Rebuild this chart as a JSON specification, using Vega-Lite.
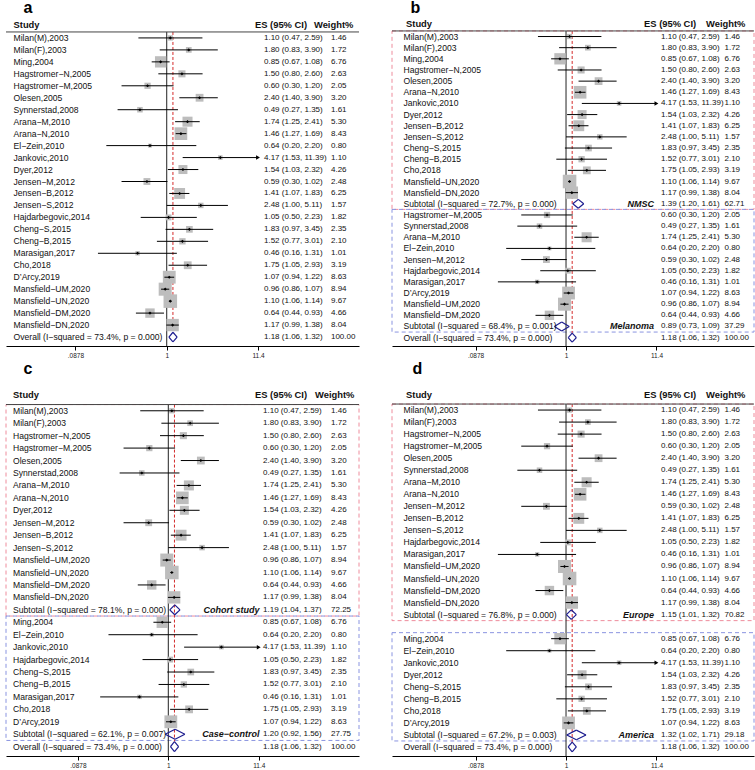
{
"$schema": "https://vega.github.io/schema/vega-lite/v6.json",
"padding": {"left": 5, "top": 0, "right": 0, "bottom": 0},
"config": {"view": {"stroke": null}, "font": "Liberation Sans", "text": {"color": "#111"}, "title": {"font": "Liberation Sans"},
 "axisX": {"grid": false, "domainColor": "#000", "tickColor": "#000", "tickSize": 4, "labelFontSize": 6.5, "labelColor": "#222", "labelPadding": 2, "labelFont": "Liberation Sans"}},
"datasets": {
"a": [
{"k":"r00","t":"header","l":"Study","ci":"ES (95% CI)","wl":"Weight%"},
{"k":"r01","t":"study","l":"Milan(M),2003","es":1.10,"lo":0.47,"hi":2.59,"w":1.46,"ci":"1.10 (0.47, 2.59)"},
{"k":"r02","t":"study","l":"Milan(F),2003","es":1.80,"lo":0.83,"hi":3.90,"w":1.72,"ci":"1.80 (0.83, 3.90)"},
{"k":"r03","t":"study","l":"Ming,2004","es":0.85,"lo":0.67,"hi":1.08,"w":6.76,"ci":"0.85 (0.67, 1.08)"},
{"k":"r04","t":"study","l":"Hagstromer−N,2005","es":1.50,"lo":0.80,"hi":2.60,"w":2.63,"ci":"1.50 (0.80, 2.60)"},
{"k":"r05","t":"study","l":"Hagstromer−M,2005","es":0.60,"lo":0.30,"hi":1.20,"w":2.05,"ci":"0.60 (0.30, 1.20)"},
{"k":"r06","t":"study","l":"Olesen,2005","es":2.40,"lo":1.40,"hi":3.90,"w":3.20,"ci":"2.40 (1.40, 3.90)"},
{"k":"r07","t":"study","l":"Synnerstad,2008","es":0.49,"lo":0.27,"hi":1.35,"w":1.61,"ci":"0.49 (0.27, 1.35)"},
{"k":"r08","t":"study","l":"Arana−M,2010","es":1.74,"lo":1.25,"hi":2.41,"w":5.30,"ci":"1.74 (1.25, 2.41)"},
{"k":"r09","t":"study","l":"Arana−N,2010","es":1.46,"lo":1.27,"hi":1.69,"w":8.43,"ci":"1.46 (1.27, 1.69)"},
{"k":"r10","t":"study","l":"El−Zein,2010","es":0.64,"lo":0.20,"hi":2.20,"w":0.80,"ci":"0.64 (0.20, 2.20)"},
{"k":"r11","t":"study","l":"Jankovic,2010","es":4.17,"lo":1.53,"hi":11.39,"w":1.10,"ci":"4.17 (1.53, 11.39)"},
{"k":"r12","t":"study","l":"Dyer,2012","es":1.54,"lo":1.03,"hi":2.32,"w":4.26,"ci":"1.54 (1.03, 2.32)"},
{"k":"r13","t":"study","l":"Jensen−M,2012","es":0.59,"lo":0.30,"hi":1.02,"w":2.48,"ci":"0.59 (0.30, 1.02)"},
{"k":"r14","t":"study","l":"Jensen−B,2012","es":1.41,"lo":1.07,"hi":1.83,"w":6.25,"ci":"1.41 (1.07, 1.83)"},
{"k":"r15","t":"study","l":"Jensen−S,2012","es":2.48,"lo":1.00,"hi":5.11,"w":1.57,"ci":"2.48 (1.00, 5.11)"},
{"k":"r16","t":"study","l":"Hajdarbegovic,2014","es":1.05,"lo":0.50,"hi":2.23,"w":1.82,"ci":"1.05 (0.50, 2.23)"},
{"k":"r17","t":"study","l":"Cheng−S,2015","es":1.83,"lo":0.97,"hi":3.45,"w":2.35,"ci":"1.83 (0.97, 3.45)"},
{"k":"r18","t":"study","l":"Cheng−B,2015","es":1.52,"lo":0.77,"hi":3.01,"w":2.10,"ci":"1.52 (0.77, 3.01)"},
{"k":"r19","t":"study","l":"Marasigan,2017","es":0.46,"lo":0.16,"hi":1.31,"w":1.01,"ci":"0.46 (0.16, 1.31)"},
{"k":"r20","t":"study","l":"Cho,2018","es":1.75,"lo":1.05,"hi":2.93,"w":3.19,"ci":"1.75 (1.05, 2.93)"},
{"k":"r21","t":"study","l":"D’Arcy,2019","es":1.07,"lo":0.94,"hi":1.22,"w":8.63,"ci":"1.07 (0.94, 1.22)"},
{"k":"r22","t":"study","l":"Mansfield−UM,2020","es":0.96,"lo":0.86,"hi":1.07,"w":8.94,"ci":"0.96 (0.86, 1.07)"},
{"k":"r23","t":"study","l":"Mansfield−UN,2020","es":1.10,"lo":1.06,"hi":1.14,"w":9.67,"ci":"1.10 (1.06, 1.14)"},
{"k":"r24","t":"study","l":"Mansfield−DM,2020","es":0.64,"lo":0.44,"hi":0.93,"w":4.66,"ci":"0.64 (0.44, 0.93)"},
{"k":"r25","t":"study","l":"Mansfield−DN,2020","es":1.17,"lo":0.99,"hi":1.38,"w":8.04,"ci":"1.17 (0.99, 1.38)"},
{"k":"r26","t":"overall","l":"Overall  (I−squared = 73.4%, p = 0.000)","es":1.18,"lo":1.06,"hi":1.32,"w":100,"ci":"1.18 (1.06, 1.32)"}
],
"b": [
{"k":"r00","t":"header","l":"Study","ci":"ES (95% CI)","wl":"Weight%"},
{"k":"r01","t":"study","l":"Milan(M),2003","es":1.10,"lo":0.47,"hi":2.59,"w":1.46,"ci":"1.10 (0.47, 2.59)"},
{"k":"r02","t":"study","l":"Milan(F),2003","es":1.80,"lo":0.83,"hi":3.90,"w":1.72,"ci":"1.80 (0.83, 3.90)"},
{"k":"r03","t":"study","l":"Ming,2004","es":0.85,"lo":0.67,"hi":1.08,"w":6.76,"ci":"0.85 (0.67, 1.08)"},
{"k":"r04","t":"study","l":"Hagstromer−N,2005","es":1.50,"lo":0.80,"hi":2.60,"w":2.63,"ci":"1.50 (0.80, 2.60)"},
{"k":"r05","t":"study","l":"Olesen,2005","es":2.40,"lo":1.40,"hi":3.90,"w":3.20,"ci":"2.40 (1.40, 3.90)"},
{"k":"r06","t":"study","l":"Arana−N,2010","es":1.46,"lo":1.27,"hi":1.69,"w":8.43,"ci":"1.46 (1.27, 1.69)"},
{"k":"r07","t":"study","l":"Jankovic,2010","es":4.17,"lo":1.53,"hi":11.39,"w":1.10,"ci":"4.17 (1.53, 11.39)"},
{"k":"r08","t":"study","l":"Dyer,2012","es":1.54,"lo":1.03,"hi":2.32,"w":4.26,"ci":"1.54 (1.03, 2.32)"},
{"k":"r09","t":"study","l":"Jensen−B,2012","es":1.41,"lo":1.07,"hi":1.83,"w":6.25,"ci":"1.41 (1.07, 1.83)"},
{"k":"r10","t":"study","l":"Jensen−S,2012","es":2.48,"lo":1.00,"hi":5.11,"w":1.57,"ci":"2.48 (1.00, 5.11)"},
{"k":"r11","t":"study","l":"Cheng−S,2015","es":1.83,"lo":0.97,"hi":3.45,"w":2.35,"ci":"1.83 (0.97, 3.45)"},
{"k":"r12","t":"study","l":"Cheng−B,2015","es":1.52,"lo":0.77,"hi":3.01,"w":2.10,"ci":"1.52 (0.77, 3.01)"},
{"k":"r13","t":"study","l":"Cho,2018","es":1.75,"lo":1.05,"hi":2.93,"w":3.19,"ci":"1.75 (1.05, 2.93)"},
{"k":"r14","t":"study","l":"Mansfield−UN,2020","es":1.10,"lo":1.06,"hi":1.14,"w":9.67,"ci":"1.10 (1.06, 1.14)"},
{"k":"r15","t":"study","l":"Mansfield−DN,2020","es":1.17,"lo":0.99,"hi":1.38,"w":8.04,"ci":"1.17 (0.99, 1.38)"},
{"k":"r16","t":"subtotal","l":"Subtotal  (I−squared = 72.7%, p = 0.000)","es":1.39,"lo":1.20,"hi":1.61,"w":62.71,"ci":"1.39 (1.20, 1.61)","g":"NMSC"},
{"k":"r17","t":"study","l":"Hagstromer−M,2005","es":0.60,"lo":0.30,"hi":1.20,"w":2.05,"ci":"0.60 (0.30, 1.20)"},
{"k":"r18","t":"study","l":"Synnerstad,2008","es":0.49,"lo":0.27,"hi":1.35,"w":1.61,"ci":"0.49 (0.27, 1.35)"},
{"k":"r19","t":"study","l":"Arana−M,2010","es":1.74,"lo":1.25,"hi":2.41,"w":5.30,"ci":"1.74 (1.25, 2.41)"},
{"k":"r20","t":"study","l":"El−Zein,2010","es":0.64,"lo":0.20,"hi":2.20,"w":0.80,"ci":"0.64 (0.20, 2.20)"},
{"k":"r21","t":"study","l":"Jensen−M,2012","es":0.59,"lo":0.30,"hi":1.02,"w":2.48,"ci":"0.59 (0.30, 1.02)"},
{"k":"r22","t":"study","l":"Hajdarbegovic,2014","es":1.05,"lo":0.50,"hi":2.23,"w":1.82,"ci":"1.05 (0.50, 2.23)"},
{"k":"r23","t":"study","l":"Marasigan,2017","es":0.46,"lo":0.16,"hi":1.31,"w":1.01,"ci":"0.46 (0.16, 1.31)"},
{"k":"r24","t":"study","l":"D’Arcy,2019","es":1.07,"lo":0.94,"hi":1.22,"w":8.63,"ci":"1.07 (0.94, 1.22)"},
{"k":"r25","t":"study","l":"Mansfield−UM,2020","es":0.96,"lo":0.86,"hi":1.07,"w":8.94,"ci":"0.96 (0.86, 1.07)"},
{"k":"r26","t":"study","l":"Mansfield−DM,2020","es":0.64,"lo":0.44,"hi":0.93,"w":4.66,"ci":"0.64 (0.44, 0.93)"},
{"k":"r27","t":"subtotal","l":"Subtotal  (I−squared = 68.4%, p = 0.001)","es":0.89,"lo":0.73,"hi":1.09,"w":37.29,"ci":"0.89 (0.73, 1.09)","g":"Melanoma"},
{"k":"r28","t":"overall","l":"Overall  (I−squared = 73.4%, p = 0.000)","es":1.18,"lo":1.06,"hi":1.32,"w":100,"ci":"1.18 (1.06, 1.32)"},
{"t":"box","from":"r01","to":"r16","part":"1"},
{"t":"box","from":"r17","to":"r27","part":"2"}
],
"c": [
{"k":"r00","t":"header","l":"Study","ci":"ES (95% CI)","wl":"Weight%"},
{"k":"r01","t":"study","l":"Milan(M),2003","es":1.10,"lo":0.47,"hi":2.59,"w":1.46,"ci":"1.10 (0.47, 2.59)"},
{"k":"r02","t":"study","l":"Milan(F),2003","es":1.80,"lo":0.83,"hi":3.90,"w":1.72,"ci":"1.80 (0.83, 3.90)"},
{"k":"r03","t":"study","l":"Hagstromer−N,2005","es":1.50,"lo":0.80,"hi":2.60,"w":2.63,"ci":"1.50 (0.80, 2.60)"},
{"k":"r04","t":"study","l":"Hagstromer−M,2005","es":0.60,"lo":0.30,"hi":1.20,"w":2.05,"ci":"0.60 (0.30, 1.20)"},
{"k":"r05","t":"study","l":"Olesen,2005","es":2.40,"lo":1.40,"hi":3.90,"w":3.20,"ci":"2.40 (1.40, 3.90)"},
{"k":"r06","t":"study","l":"Synnerstad,2008","es":0.49,"lo":0.27,"hi":1.35,"w":1.61,"ci":"0.49 (0.27, 1.35)"},
{"k":"r07","t":"study","l":"Arana−M,2010","es":1.74,"lo":1.25,"hi":2.41,"w":5.30,"ci":"1.74 (1.25, 2.41)"},
{"k":"r08","t":"study","l":"Arana−N,2010","es":1.46,"lo":1.27,"hi":1.69,"w":8.43,"ci":"1.46 (1.27, 1.69)"},
{"k":"r09","t":"study","l":"Dyer,2012","es":1.54,"lo":1.03,"hi":2.32,"w":4.26,"ci":"1.54 (1.03, 2.32)"},
{"k":"r10","t":"study","l":"Jensen−M,2012","es":0.59,"lo":0.30,"hi":1.02,"w":2.48,"ci":"0.59 (0.30, 1.02)"},
{"k":"r11","t":"study","l":"Jensen−B,2012","es":1.41,"lo":1.07,"hi":1.83,"w":6.25,"ci":"1.41 (1.07, 1.83)"},
{"k":"r12","t":"study","l":"Jensen−S,2012","es":2.48,"lo":1.00,"hi":5.11,"w":1.57,"ci":"2.48 (1.00, 5.11)"},
{"k":"r13","t":"study","l":"Mansfield−UM,2020","es":0.96,"lo":0.86,"hi":1.07,"w":8.94,"ci":"0.96 (0.86, 1.07)"},
{"k":"r14","t":"study","l":"Mansfield−UN,2020","es":1.10,"lo":1.06,"hi":1.14,"w":9.67,"ci":"1.10 (1.06, 1.14)"},
{"k":"r15","t":"study","l":"Mansfield−DM,2020","es":0.64,"lo":0.44,"hi":0.93,"w":4.66,"ci":"0.64 (0.44, 0.93)"},
{"k":"r16","t":"study","l":"Mansfield−DN,2020","es":1.17,"lo":0.99,"hi":1.38,"w":8.04,"ci":"1.17 (0.99, 1.38)"},
{"k":"r17","t":"subtotal","l":"Subtotal  (I−squared = 78.1%, p = 0.000)","es":1.19,"lo":1.04,"hi":1.37,"w":72.25,"ci":"1.19 (1.04, 1.37)","g":"Cohort study"},
{"k":"r18","t":"study","l":"Ming,2004","es":0.85,"lo":0.67,"hi":1.08,"w":6.76,"ci":"0.85 (0.67, 1.08)"},
{"k":"r19","t":"study","l":"El−Zein,2010","es":0.64,"lo":0.20,"hi":2.20,"w":0.80,"ci":"0.64 (0.20, 2.20)"},
{"k":"r20","t":"study","l":"Jankovic,2010","es":4.17,"lo":1.53,"hi":11.39,"w":1.10,"ci":"4.17 (1.53, 11.39)"},
{"k":"r21","t":"study","l":"Hajdarbegovic,2014","es":1.05,"lo":0.50,"hi":2.23,"w":1.82,"ci":"1.05 (0.50, 2.23)"},
{"k":"r22","t":"study","l":"Cheng−S,2015","es":1.83,"lo":0.97,"hi":3.45,"w":2.35,"ci":"1.83 (0.97, 3.45)"},
{"k":"r23","t":"study","l":"Cheng−B,2015","es":1.52,"lo":0.77,"hi":3.01,"w":2.10,"ci":"1.52 (0.77, 3.01)"},
{"k":"r24","t":"study","l":"Marasigan,2017","es":0.46,"lo":0.16,"hi":1.31,"w":1.01,"ci":"0.46 (0.16, 1.31)"},
{"k":"r25","t":"study","l":"Cho,2018","es":1.75,"lo":1.05,"hi":2.93,"w":3.19,"ci":"1.75 (1.05, 2.93)"},
{"k":"r26","t":"study","l":"D’Arcy,2019","es":1.07,"lo":0.94,"hi":1.22,"w":8.63,"ci":"1.07 (0.94, 1.22)"},
{"k":"r27","t":"subtotal","l":"Subtotal  (I−squared = 62.1%, p = 0.007)","es":1.20,"lo":0.92,"hi":1.56,"w":27.75,"ci":"1.20 (0.92, 1.56)","g":"Case−control"},
{"k":"r28","t":"overall","l":"Overall  (I−squared = 73.4%, p = 0.000)","es":1.18,"lo":1.06,"hi":1.32,"w":100,"ci":"1.18 (1.06, 1.32)"},
{"t":"box","from":"r01","to":"r17","part":"1"},
{"t":"box","from":"r18","to":"r27","part":"2"}
],
"d": [
{"k":"r00","t":"header","l":"Study","ci":"ES (95% CI)","wl":"Weight%"},
{"k":"r01","t":"study","l":"Milan(M),2003","es":1.10,"lo":0.47,"hi":2.59,"w":1.46,"ci":"1.10 (0.47, 2.59)"},
{"k":"r02","t":"study","l":"Milan(F),2003","es":1.80,"lo":0.83,"hi":3.90,"w":1.72,"ci":"1.80 (0.83, 3.90)"},
{"k":"r03","t":"study","l":"Hagstromer−N,2005","es":1.50,"lo":0.80,"hi":2.60,"w":2.63,"ci":"1.50 (0.80, 2.60)"},
{"k":"r04","t":"study","l":"Hagstromer−M,2005","es":0.60,"lo":0.30,"hi":1.20,"w":2.05,"ci":"0.60 (0.30, 1.20)"},
{"k":"r05","t":"study","l":"Olesen,2005","es":2.40,"lo":1.40,"hi":3.90,"w":3.20,"ci":"2.40 (1.40, 3.90)"},
{"k":"r06","t":"study","l":"Synnerstad,2008","es":0.49,"lo":0.27,"hi":1.35,"w":1.61,"ci":"0.49 (0.27, 1.35)"},
{"k":"r07","t":"study","l":"Arana−M,2010","es":1.74,"lo":1.25,"hi":2.41,"w":5.30,"ci":"1.74 (1.25, 2.41)"},
{"k":"r08","t":"study","l":"Arana−N,2010","es":1.46,"lo":1.27,"hi":1.69,"w":8.43,"ci":"1.46 (1.27, 1.69)"},
{"k":"r09","t":"study","l":"Jensen−M,2012","es":0.59,"lo":0.30,"hi":1.02,"w":2.48,"ci":"0.59 (0.30, 1.02)"},
{"k":"r10","t":"study","l":"Jensen−B,2012","es":1.41,"lo":1.07,"hi":1.83,"w":6.25,"ci":"1.41 (1.07, 1.83)"},
{"k":"r11","t":"study","l":"Jensen−S,2012","es":2.48,"lo":1.00,"hi":5.11,"w":1.57,"ci":"2.48 (1.00, 5.11)"},
{"k":"r12","t":"study","l":"Hajdarbegovic,2014","es":1.05,"lo":0.50,"hi":2.23,"w":1.82,"ci":"1.05 (0.50, 2.23)"},
{"k":"r13","t":"study","l":"Marasigan,2017","es":0.46,"lo":0.16,"hi":1.31,"w":1.01,"ci":"0.46 (0.16, 1.31)"},
{"k":"r14","t":"study","l":"Mansfield−UM,2020","es":0.96,"lo":0.86,"hi":1.07,"w":8.94,"ci":"0.96 (0.86, 1.07)"},
{"k":"r15","t":"study","l":"Mansfield−UN,2020","es":1.10,"lo":1.06,"hi":1.14,"w":9.67,"ci":"1.10 (1.06, 1.14)"},
{"k":"r16","t":"study","l":"Mansfield−DM,2020","es":0.64,"lo":0.44,"hi":0.93,"w":4.66,"ci":"0.64 (0.44, 0.93)"},
{"k":"r17","t":"study","l":"Mansfield−DN,2020","es":1.17,"lo":0.99,"hi":1.38,"w":8.04,"ci":"1.17 (0.99, 1.38)"},
{"k":"r18","t":"subtotal","l":"Subtotal  (I−squared = 76.8%, p = 0.000)","es":1.15,"lo":1.01,"hi":1.32,"w":70.82,"ci":"1.15 (1.01, 1.32)","g":"Europe"},
{"k":"r19","t":"blank","l":""},
{"k":"r20","t":"study","l":"Ming,2004","es":0.85,"lo":0.67,"hi":1.08,"w":6.76,"ci":"0.85 (0.67, 1.08)"},
{"k":"r21","t":"study","l":"El−Zein,2010","es":0.64,"lo":0.20,"hi":2.20,"w":0.80,"ci":"0.64 (0.20, 2.20)"},
{"k":"r22","t":"study","l":"Jankovic,2010","es":4.17,"lo":1.53,"hi":11.39,"w":1.10,"ci":"4.17 (1.53, 11.39)"},
{"k":"r23","t":"study","l":"Dyer,2012","es":1.54,"lo":1.03,"hi":2.32,"w":4.26,"ci":"1.54 (1.03, 2.32)"},
{"k":"r24","t":"study","l":"Cheng−S,2015","es":1.83,"lo":0.97,"hi":3.45,"w":2.35,"ci":"1.83 (0.97, 3.45)"},
{"k":"r25","t":"study","l":"Cheng−B,2015","es":1.52,"lo":0.77,"hi":3.01,"w":2.10,"ci":"1.52 (0.77, 3.01)"},
{"k":"r26","t":"study","l":"Cho,2018","es":1.75,"lo":1.05,"hi":2.93,"w":3.19,"ci":"1.75 (1.05, 2.93)"},
{"k":"r27","t":"study","l":"D’Arcy,2019","es":1.07,"lo":0.94,"hi":1.22,"w":8.63,"ci":"1.07 (0.94, 1.22)"},
{"k":"r28","t":"subtotal","l":"Subtotal  (I−squared = 67.2%, p = 0.003)","es":1.32,"lo":1.02,"hi":1.71,"w":29.18,"ci":"1.32 (1.02, 1.71)","g":"America"},
{"k":"r29","t":"overall","l":"Overall  (I−squared = 73.4%, p = 0.000)","es":1.18,"lo":1.06,"hi":1.32,"w":100,"ci":"1.18 (1.06, 1.32)"},
{"t":"box","from":"r01","to":"r18","part":"1"},
{"t":"box","from":"r20","to":"r28","part":"2"}
]
},
"spacing": 2,
"vconcat": [
{"spacing": 31, "hconcat": [
{
"width": 353, "height": 329,
"title": {"text": "a", "anchor": "start", "dx": 18, "dy": 3, "fontSize": 16, "fontWeight": "bold", "offset": 4},
"data": {"name": "a"},
"encoding": {"y": {"field": "k", "type": "ordinal", "axis": null, "scale": {"paddingInner": 0, "paddingOuter": 0.25, "domain": ["r00","r01","r02","r03","r04","r05","r06","r07","r08","r09","r10","r11","r12","r13","r14","r15","r16","r17","r18","r19","r20","r21","r22","r23","r24","r25","r26"]}}},
"layer": [
{"transform": [{"filter": "datum.t==='header'"}], "mark": {"type": "rule", "color": "#222", "strokeWidth": 1},
 "encoding": {"x": {"datum": 1, "type": "quantitative", "title": null, "scale": {"type": "log", "domain": [0.0138, 168], "nice": false}, "axis": {"values": [0.0878, 1, 11.4], "labelExpr": "replace(toString(datum.value), '0.', '.')"}},
  "y": {"field": "k", "type": "ordinal", "bandPosition": 1, "axis": null}, "y2": {"value": "height"}}},
{"transform": [{"filter": "datum.t==='overall'"}], "mark": {"type": "rule", "color": "#d42a2a", "strokeDash": [3, 2], "strokeWidth": 1},
 "encoding": {"x": {"field": "es", "type": "quantitative", "title": null, "axis": {"values": [0.0878, 1, 11.4], "labelExpr": "replace(toString(datum.value), '0.', '.')"}}, "y": {"datum": "r00", "type": "ordinal", "bandPosition": 1, "axis": null}, "y2": {"field": "k", "bandPosition": 0.08}}},
{"transform": [{"filter": "datum.t==='study'"}], "mark": {"type": "point", "shape": "square", "filled": true, "color": "#bdbdbd", "opacity": 1},
 "encoding": {"x": {"field": "es", "type": "quantitative", "title": null, "axis": {"values": [0.0878, 1, 11.4], "labelExpr": "replace(toString(datum.value), '0.', '.')"}}, "size": {"field": "w", "type": "quantitative", "scale": {"domain": [0, 10], "range": [0, 190]}, "legend": null}}},
{"transform": [{"filter": "datum.t==='study'"}], "mark": {"type": "rule", "color": "#000", "strokeWidth": 1},
 "encoding": {"x": {"field": "lo", "type": "quantitative", "title": null, "axis": {"values": [0.0878, 1, 11.4], "labelExpr": "replace(toString(datum.value), '0.', '.')"}}, "x2": {"field": "hi"}}},
{"transform": [{"filter": "datum.t==='study'"}], "mark": {"type": "point", "shape": "diamond", "filled": true, "color": "#000", "size": 10, "opacity": 1},
 "encoding": {"x": {"field": "es", "type": "quantitative", "title": null, "axis": {"values": [0.0878, 1, 11.4], "labelExpr": "replace(toString(datum.value), '0.', '.')"}}}},
{"transform": [{"filter": "datum.t==='study' && datum.hi > 11"}], "mark": {"type": "point", "shape": "triangle-right", "filled": true, "color": "#000", "size": 20, "opacity": 1},
 "encoding": {"x": {"field": "hi", "type": "quantitative", "title": null, "axis": {"values": [0.0878, 1, 11.4], "labelExpr": "replace(toString(datum.value), '0.', '.')"}}}},
{"transform": [{"filter": "datum.t==='subtotal' || datum.t==='overall'"}], "mark": {"type": "rule", "color": "#1c1c8f", "strokeWidth": 1.2},
 "encoding": {"x": {"field": "lo", "type": "quantitative", "title": null, "axis": {"values": [0.0878, 1, 11.4], "labelExpr": "replace(toString(datum.value), '0.', '.')"}}, "x2": {"field": "es"}, "y": {"field": "k", "type": "ordinal", "bandPosition": 0.5, "axis": null}, "y2": {"field": "k", "bandPosition": 0.1}}},
{"transform": [{"filter": "datum.t==='subtotal' || datum.t==='overall'"}], "mark": {"type": "rule", "color": "#1c1c8f", "strokeWidth": 1.2},
 "encoding": {"x": {"field": "es", "type": "quantitative", "title": null, "axis": {"values": [0.0878, 1, 11.4], "labelExpr": "replace(toString(datum.value), '0.', '.')"}}, "x2": {"field": "hi"}, "y": {"field": "k", "type": "ordinal", "bandPosition": 0.1, "axis": null}, "y2": {"field": "k", "bandPosition": 0.5}}},
{"transform": [{"filter": "datum.t==='subtotal' || datum.t==='overall'"}], "mark": {"type": "rule", "color": "#1c1c8f", "strokeWidth": 1.2},
 "encoding": {"x": {"field": "hi", "type": "quantitative", "title": null, "axis": {"values": [0.0878, 1, 11.4], "labelExpr": "replace(toString(datum.value), '0.', '.')"}}, "x2": {"field": "es"}, "y": {"field": "k", "type": "ordinal", "bandPosition": 0.5, "axis": null}, "y2": {"field": "k", "bandPosition": 0.9}}},
{"transform": [{"filter": "datum.t==='subtotal' || datum.t==='overall'"}], "mark": {"type": "rule", "color": "#1c1c8f", "strokeWidth": 1.2},
 "encoding": {"x": {"field": "es", "type": "quantitative", "title": null, "axis": {"values": [0.0878, 1, 11.4], "labelExpr": "replace(toString(datum.value), '0.', '.')"}}, "x2": {"field": "lo"}, "y": {"field": "k", "type": "ordinal", "bandPosition": 0.9, "axis": null}, "y2": {"field": "k", "bandPosition": 0.5}}},
{"transform": [{"filter": "datum.t==='header'"}], "mark": {"type": "rule", "color": "#444", "strokeWidth": 1},
 "encoding": {"y": {"field": "k", "type": "ordinal", "bandPosition": 1, "axis": null}}},
{"transform": [{"filter": "datum.t==='header'"}], "mark": {"type": "text", "align": "left", "baseline": "middle", "fontSize": 9.4, "fontWeight": "bold", "dy": -1},
 "encoding": {"x": {"datum": 0.01686, "type": "quantitative", "title": null, "axis": {"values": [0.0878, 1, 11.4], "labelExpr": "replace(toString(datum.value), '0.', '.')"}}, "text": {"field": "l"}}},
{"transform": [{"filter": "datum.t==='header'"}], "mark": {"type": "text", "align": "left", "baseline": "middle", "fontSize": 9.4, "fontWeight": "bold", "dy": -1},
 "encoding": {"x": {"datum": 10.5, "type": "quantitative", "title": null, "axis": {"values": [0.0878, 1, 11.4], "labelExpr": "replace(toString(datum.value), '0.', '.')"}}, "text": {"field": "ci"}}},
{"transform": [{"filter": "datum.t==='header'"}], "mark": {"type": "text", "align": "left", "baseline": "middle", "fontSize": 9.4, "fontWeight": "bold", "dy": -1},
 "encoding": {"x": {"datum": 50.6, "type": "quantitative", "title": null, "axis": {"values": [0.0878, 1, 11.4], "labelExpr": "replace(toString(datum.value), '0.', '.')"}}, "text": {"field": "wl"}}},
{"transform": [{"filter": "datum.t!=='header' && datum.t!=='box'"}], "mark": {"type": "text", "align": "left", "baseline": "middle", "fontSize": 8.6},
 "encoding": {"x": {"datum": 0.01686, "type": "quantitative", "title": null, "axis": {"values": [0.0878, 1, 11.4], "labelExpr": "replace(toString(datum.value), '0.', '.')"}}, "text": {"field": "l"}}},
{"transform": [{"filter": "datum.t!=='header' && isValid(datum.ci)"}], "mark": {"type": "text", "align": "left", "baseline": "middle", "fontSize": 8},
 "encoding": {"x": {"datum": 13.36, "type": "quantitative", "title": null, "axis": {"values": [0.0878, 1, 11.4], "labelExpr": "replace(toString(datum.value), '0.', '.')"}}, "text": {"field": "ci"}}},
{"transform": [{"filter": "isValid(datum.w)"}], "mark": {"type": "text", "align": "left", "baseline": "middle", "fontSize": 8},
 "encoding": {"x": {"datum": 79.6, "type": "quantitative", "title": null, "axis": {"values": [0.0878, 1, 11.4], "labelExpr": "replace(toString(datum.value), '0.', '.')"}}, "text": {"field": "w", "type": "quantitative", "format": ".2f"}}}
]
},
{
"width": 362, "height": 329,
"title": {"text": "b", "anchor": "start", "dx": 19, "dy": 3, "fontSize": 16, "fontWeight": "bold", "offset": 4},
"data": {"name": "b"},
"encoding": {"y": {"field": "k", "type": "ordinal", "axis": null, "scale": {"paddingInner": 0, "paddingOuter": 0.25, "domain": ["r00","r01","r02","r03","r04","r05","r06","r07","r08","r09","r10","r11","r12","r13","r14","r15","r16","r17","r18","r19","r20","r21","r22","r23","r24","r25","r26","r27","r28"]}}},
"layer": [
{"transform": [{"filter": "datum.t==='box'"}], "mark": {"type": "rect", "fillOpacity": 0, "strokeDash": [4, 3], "strokeWidth": 1},
 "encoding": {"y": {"field": "from", "type": "ordinal", "bandPosition": 0, "axis": null}, "y2": {"field": "to", "bandPosition": 1}, "stroke": {"field": "part", "type": "nominal", "scale": {"domain": ["1", "2"], "range": ["#ee8c9c", "#8a94e0"]}, "legend": null}}},
{"transform": [{"filter": "datum.t==='header'"}], "mark": {"type": "rule", "color": "#222", "strokeWidth": 1},
 "encoding": {"x": {"datum": 1, "type": "quantitative", "title": null, "scale": {"type": "log", "domain": [0.00927, 157], "nice": false}, "axis": {"values": [0.0878, 1, 11.4], "labelExpr": "replace(toString(datum.value), '0.', '.')"}},
  "y": {"field": "k", "type": "ordinal", "bandPosition": 1, "axis": null}, "y2": {"value": "height"}}},
{"transform": [{"filter": "datum.t==='overall'"}], "mark": {"type": "rule", "color": "#d42a2a", "strokeDash": [3, 2], "strokeWidth": 1},
 "encoding": {"x": {"field": "es", "type": "quantitative", "title": null, "axis": {"values": [0.0878, 1, 11.4], "labelExpr": "replace(toString(datum.value), '0.', '.')"}}, "y": {"datum": "r00", "type": "ordinal", "bandPosition": 1, "axis": null}, "y2": {"field": "k", "bandPosition": 0.08}}},
{"transform": [{"filter": "datum.t==='study'"}], "mark": {"type": "point", "shape": "square", "filled": true, "color": "#bdbdbd", "opacity": 1},
 "encoding": {"x": {"field": "es", "type": "quantitative", "title": null, "axis": {"values": [0.0878, 1, 11.4], "labelExpr": "replace(toString(datum.value), '0.', '.')"}}, "size": {"field": "w", "type": "quantitative", "scale": {"domain": [0, 10], "range": [0, 190]}, "legend": null}}},
{"transform": [{"filter": "datum.t==='study'"}], "mark": {"type": "rule", "color": "#000", "strokeWidth": 1},
 "encoding": {"x": {"field": "lo", "type": "quantitative", "title": null, "axis": {"values": [0.0878, 1, 11.4], "labelExpr": "replace(toString(datum.value), '0.', '.')"}}, "x2": {"field": "hi"}}},
{"transform": [{"filter": "datum.t==='study'"}], "mark": {"type": "point", "shape": "diamond", "filled": true, "color": "#000", "size": 10, "opacity": 1},
 "encoding": {"x": {"field": "es", "type": "quantitative", "title": null, "axis": {"values": [0.0878, 1, 11.4], "labelExpr": "replace(toString(datum.value), '0.', '.')"}}}},
{"transform": [{"filter": "datum.t==='study' && datum.hi > 11"}], "mark": {"type": "point", "shape": "triangle-right", "filled": true, "color": "#000", "size": 20, "opacity": 1},
 "encoding": {"x": {"field": "hi", "type": "quantitative", "title": null, "axis": {"values": [0.0878, 1, 11.4], "labelExpr": "replace(toString(datum.value), '0.', '.')"}}}},
{"transform": [{"filter": "datum.t==='subtotal' || datum.t==='overall'"}], "mark": {"type": "rule", "color": "#1c1c8f", "strokeWidth": 1.2},
 "encoding": {"x": {"field": "lo", "type": "quantitative", "title": null, "axis": {"values": [0.0878, 1, 11.4], "labelExpr": "replace(toString(datum.value), '0.', '.')"}}, "x2": {"field": "es"}, "y": {"field": "k", "type": "ordinal", "bandPosition": 0.5, "axis": null}, "y2": {"field": "k", "bandPosition": 0.1}}},
{"transform": [{"filter": "datum.t==='subtotal' || datum.t==='overall'"}], "mark": {"type": "rule", "color": "#1c1c8f", "strokeWidth": 1.2},
 "encoding": {"x": {"field": "es", "type": "quantitative", "title": null, "axis": {"values": [0.0878, 1, 11.4], "labelExpr": "replace(toString(datum.value), '0.', '.')"}}, "x2": {"field": "hi"}, "y": {"field": "k", "type": "ordinal", "bandPosition": 0.1, "axis": null}, "y2": {"field": "k", "bandPosition": 0.5}}},
{"transform": [{"filter": "datum.t==='subtotal' || datum.t==='overall'"}], "mark": {"type": "rule", "color": "#1c1c8f", "strokeWidth": 1.2},
 "encoding": {"x": {"field": "hi", "type": "quantitative", "title": null, "axis": {"values": [0.0878, 1, 11.4], "labelExpr": "replace(toString(datum.value), '0.', '.')"}}, "x2": {"field": "es"}, "y": {"field": "k", "type": "ordinal", "bandPosition": 0.5, "axis": null}, "y2": {"field": "k", "bandPosition": 0.9}}},
{"transform": [{"filter": "datum.t==='subtotal' || datum.t==='overall'"}], "mark": {"type": "rule", "color": "#1c1c8f", "strokeWidth": 1.2},
 "encoding": {"x": {"field": "es", "type": "quantitative", "title": null, "axis": {"values": [0.0878, 1, 11.4], "labelExpr": "replace(toString(datum.value), '0.', '.')"}}, "x2": {"field": "lo"}, "y": {"field": "k", "type": "ordinal", "bandPosition": 0.9, "axis": null}, "y2": {"field": "k", "bandPosition": 0.5}}},
{"transform": [{"filter": "datum.t==='header'"}], "mark": {"type": "rule", "color": "#444", "strokeWidth": 1},
 "encoding": {"y": {"field": "k", "type": "ordinal", "bandPosition": 1, "axis": null}}},
{"transform": [{"filter": "datum.t==='header'"}], "mark": {"type": "text", "align": "left", "baseline": "middle", "fontSize": 9.4, "fontWeight": "bold", "dy": -1},
 "encoding": {"x": {"datum": 0.01351, "type": "quantitative", "title": null, "axis": {"values": [0.0878, 1, 11.4], "labelExpr": "replace(toString(datum.value), '0.', '.')"}}, "text": {"field": "l"}}},
{"transform": [{"filter": "datum.t==='header'"}], "mark": {"type": "text", "align": "left", "baseline": "middle", "fontSize": 9.4, "fontWeight": "bold", "dy": -1},
 "encoding": {"x": {"datum": 8.15, "type": "quantitative", "title": null, "axis": {"values": [0.0878, 1, 11.4], "labelExpr": "replace(toString(datum.value), '0.', '.')"}}, "text": {"field": "ci"}}},
{"transform": [{"filter": "datum.t==='header'"}], "mark": {"type": "text", "align": "left", "baseline": "middle", "fontSize": 9.4, "fontWeight": "bold", "dy": -1},
 "encoding": {"x": {"datum": 43.2, "type": "quantitative", "title": null, "axis": {"values": [0.0878, 1, 11.4], "labelExpr": "replace(toString(datum.value), '0.', '.')"}}, "text": {"field": "wl"}}},
{"transform": [{"filter": "datum.t!=='header' && datum.t!=='box'"}], "mark": {"type": "text", "align": "left", "baseline": "middle", "fontSize": 8.6},
 "encoding": {"x": {"datum": 0.01262, "type": "quantitative", "title": null, "axis": {"values": [0.0878, 1, 11.4], "labelExpr": "replace(toString(datum.value), '0.', '.')"}}, "text": {"field": "l"}}},
{"transform": [{"filter": "datum.t!=='header' && isValid(datum.ci)"}], "mark": {"type": "text", "align": "left", "baseline": "middle", "fontSize": 8},
 "encoding": {"x": {"datum": 12.87, "type": "quantitative", "title": null, "axis": {"values": [0.0878, 1, 11.4], "labelExpr": "replace(toString(datum.value), '0.', '.')"}}, "text": {"field": "ci"}}},
{"transform": [{"filter": "isValid(datum.w)"}], "mark": {"type": "text", "align": "left", "baseline": "middle", "fontSize": 8},
 "encoding": {"x": {"datum": 71.0, "type": "quantitative", "title": null, "axis": {"values": [0.0878, 1, 11.4], "labelExpr": "replace(toString(datum.value), '0.', '.')"}}, "text": {"field": "w", "type": "quantitative", "format": ".2f"}}},
{"transform": [{"filter": "datum.t==='subtotal'"}], "mark": {"type": "text", "align": "right", "baseline": "middle", "fontSize": 9, "fontWeight": "bold", "fontStyle": "italic"},
 "encoding": {"x": {"datum": 10.66, "type": "quantitative", "title": null, "axis": {"values": [0.0878, 1, 11.4], "labelExpr": "replace(toString(datum.value), '0.', '.')"}}, "text": {"field": "g"}}}
]
}
]},
{"spacing": 31, "hconcat": [
{
"width": 353, "height": 367,
"title": {"text": "c", "anchor": "start", "dx": 18, "fontSize": 16, "fontWeight": "bold", "offset": 12},
"data": {"name": "c"},
"encoding": {"y": {"field": "k", "type": "ordinal", "axis": null, "scale": {"paddingInner": 0, "paddingOuter": 0.25, "domain": ["r00","r01","r02","r03","r04","r05","r06","r07","r08","r09","r10","r11","r12","r13","r14","r15","r16","r17","r18","r19","r20","r21","r22","r23","r24","r25","r26","r27","r28"]}}},
"layer": [
{"transform": [{"filter": "datum.t==='box'"}], "mark": {"type": "rect", "fillOpacity": 0, "strokeDash": [4, 3], "strokeWidth": 1},
 "encoding": {"y": {"field": "from", "type": "ordinal", "bandPosition": 0, "axis": null}, "y2": {"field": "to", "bandPosition": 1}, "stroke": {"field": "part", "type": "nominal", "scale": {"domain": ["1", "2"], "range": ["#ee8c9c", "#8a94e0"]}, "legend": null}}},
{"transform": [{"filter": "datum.t==='header'"}], "mark": {"type": "rule", "color": "#222", "strokeWidth": 1},
 "encoding": {"x": {"datum": 1, "type": "quantitative", "title": null, "scale": {"type": "log", "domain": [0.0127, 169], "nice": false}, "axis": {"values": [0.0878, 1, 11.4], "labelExpr": "replace(toString(datum.value), '0.', '.')"}},
  "y": {"field": "k", "type": "ordinal", "bandPosition": 1, "axis": null}, "y2": {"value": "height"}}},
{"transform": [{"filter": "datum.t==='overall'"}], "mark": {"type": "rule", "color": "#d42a2a", "strokeDash": [3, 2], "strokeWidth": 1},
 "encoding": {"x": {"field": "es", "type": "quantitative", "title": null, "axis": {"values": [0.0878, 1, 11.4], "labelExpr": "replace(toString(datum.value), '0.', '.')"}}, "y": {"datum": "r00", "type": "ordinal", "bandPosition": 1, "axis": null}, "y2": {"field": "k", "bandPosition": 0.08}}},
{"transform": [{"filter": "datum.t==='study'"}], "mark": {"type": "point", "shape": "square", "filled": true, "color": "#bdbdbd", "opacity": 1},
 "encoding": {"x": {"field": "es", "type": "quantitative", "title": null, "axis": {"values": [0.0878, 1, 11.4], "labelExpr": "replace(toString(datum.value), '0.', '.')"}}, "size": {"field": "w", "type": "quantitative", "scale": {"domain": [0, 10], "range": [0, 190]}, "legend": null}}},
{"transform": [{"filter": "datum.t==='study'"}], "mark": {"type": "rule", "color": "#000", "strokeWidth": 1},
 "encoding": {"x": {"field": "lo", "type": "quantitative", "title": null, "axis": {"values": [0.0878, 1, 11.4], "labelExpr": "replace(toString(datum.value), '0.', '.')"}}, "x2": {"field": "hi"}}},
{"transform": [{"filter": "datum.t==='study'"}], "mark": {"type": "point", "shape": "diamond", "filled": true, "color": "#000", "size": 10, "opacity": 1},
 "encoding": {"x": {"field": "es", "type": "quantitative", "title": null, "axis": {"values": [0.0878, 1, 11.4], "labelExpr": "replace(toString(datum.value), '0.', '.')"}}}},
{"transform": [{"filter": "datum.t==='study' && datum.hi > 11"}], "mark": {"type": "point", "shape": "triangle-right", "filled": true, "color": "#000", "size": 20, "opacity": 1},
 "encoding": {"x": {"field": "hi", "type": "quantitative", "title": null, "axis": {"values": [0.0878, 1, 11.4], "labelExpr": "replace(toString(datum.value), '0.', '.')"}}}},
{"transform": [{"filter": "datum.t==='subtotal' || datum.t==='overall'"}], "mark": {"type": "rule", "color": "#1c1c8f", "strokeWidth": 1.2},
 "encoding": {"x": {"field": "lo", "type": "quantitative", "title": null, "axis": {"values": [0.0878, 1, 11.4], "labelExpr": "replace(toString(datum.value), '0.', '.')"}}, "x2": {"field": "es"}, "y": {"field": "k", "type": "ordinal", "bandPosition": 0.5, "axis": null}, "y2": {"field": "k", "bandPosition": 0.1}}},
{"transform": [{"filter": "datum.t==='subtotal' || datum.t==='overall'"}], "mark": {"type": "rule", "color": "#1c1c8f", "strokeWidth": 1.2},
 "encoding": {"x": {"field": "es", "type": "quantitative", "title": null, "axis": {"values": [0.0878, 1, 11.4], "labelExpr": "replace(toString(datum.value), '0.', '.')"}}, "x2": {"field": "hi"}, "y": {"field": "k", "type": "ordinal", "bandPosition": 0.1, "axis": null}, "y2": {"field": "k", "bandPosition": 0.5}}},
{"transform": [{"filter": "datum.t==='subtotal' || datum.t==='overall'"}], "mark": {"type": "rule", "color": "#1c1c8f", "strokeWidth": 1.2},
 "encoding": {"x": {"field": "hi", "type": "quantitative", "title": null, "axis": {"values": [0.0878, 1, 11.4], "labelExpr": "replace(toString(datum.value), '0.', '.')"}}, "x2": {"field": "es"}, "y": {"field": "k", "type": "ordinal", "bandPosition": 0.5, "axis": null}, "y2": {"field": "k", "bandPosition": 0.9}}},
{"transform": [{"filter": "datum.t==='subtotal' || datum.t==='overall'"}], "mark": {"type": "rule", "color": "#1c1c8f", "strokeWidth": 1.2},
 "encoding": {"x": {"field": "es", "type": "quantitative", "title": null, "axis": {"values": [0.0878, 1, 11.4], "labelExpr": "replace(toString(datum.value), '0.', '.')"}}, "x2": {"field": "lo"}, "y": {"field": "k", "type": "ordinal", "bandPosition": 0.9, "axis": null}, "y2": {"field": "k", "bandPosition": 0.5}}},
{"transform": [{"filter": "datum.t==='header'"}], "mark": {"type": "rule", "color": "#444", "strokeWidth": 1},
 "encoding": {"y": {"field": "k", "type": "ordinal", "bandPosition": 1, "axis": null}}},
{"transform": [{"filter": "datum.t==='header'"}], "mark": {"type": "text", "align": "left", "baseline": "middle", "fontSize": 9.4, "fontWeight": "bold", "dy": -3},
 "encoding": {"x": {"datum": 0.01534, "type": "quantitative", "title": null, "axis": {"values": [0.0878, 1, 11.4], "labelExpr": "replace(toString(datum.value), '0.', '.')"}}, "text": {"field": "l"}}},
{"transform": [{"filter": "datum.t==='header'"}], "mark": {"type": "text", "align": "left", "baseline": "middle", "fontSize": 9.4, "fontWeight": "bold", "dy": -3},
 "encoding": {"x": {"datum": 10.3, "type": "quantitative", "title": null, "axis": {"values": [0.0878, 1, 11.4], "labelExpr": "replace(toString(datum.value), '0.', '.')"}}, "text": {"field": "ci"}}},
{"transform": [{"filter": "datum.t==='header'"}], "mark": {"type": "text", "align": "left", "baseline": "middle", "fontSize": 9.4, "fontWeight": "bold", "dy": -3},
 "encoding": {"x": {"datum": 51.8, "type": "quantitative", "title": null, "axis": {"values": [0.0878, 1, 11.4], "labelExpr": "replace(toString(datum.value), '0.', '.')"}}, "text": {"field": "wl"}}},
{"transform": [{"filter": "datum.t!=='header' && datum.t!=='box'"}], "mark": {"type": "text", "align": "left", "baseline": "middle", "fontSize": 8.6},
 "encoding": {"x": {"datum": 0.01534, "type": "quantitative", "title": null, "axis": {"values": [0.0878, 1, 11.4], "labelExpr": "replace(toString(datum.value), '0.', '.')"}}, "text": {"field": "l"}}},
{"transform": [{"filter": "datum.t!=='header' && isValid(datum.ci)"}], "mark": {"type": "text", "align": "left", "baseline": "middle", "fontSize": 8},
 "encoding": {"x": {"datum": 12.78, "type": "quantitative", "title": null, "axis": {"values": [0.0878, 1, 11.4], "labelExpr": "replace(toString(datum.value), '0.', '.')"}}, "text": {"field": "ci"}}},
{"transform": [{"filter": "isValid(datum.w)"}], "mark": {"type": "text", "align": "left", "baseline": "middle", "fontSize": 8},
 "encoding": {"x": {"datum": 79.6, "type": "quantitative", "title": null, "axis": {"values": [0.0878, 1, 11.4], "labelExpr": "replace(toString(datum.value), '0.', '.')"}}, "text": {"field": "w", "type": "quantitative", "format": ".2f"}}},
{"transform": [{"filter": "datum.t==='subtotal'"}], "mark": {"type": "text", "align": "right", "baseline": "middle", "fontSize": 9, "fontWeight": "bold", "fontStyle": "italic"},
 "encoding": {"x": {"datum": 11.63, "type": "quantitative", "title": null, "axis": {"values": [0.0878, 1, 11.4], "labelExpr": "replace(toString(datum.value), '0.', '.')"}}, "text": {"field": "g"}}}
]
},
{
"width": 362, "height": 367,
"title": {"text": "d", "anchor": "start", "dx": 21, "fontSize": 16, "fontWeight": "bold", "offset": 12},
"data": {"name": "d"},
"encoding": {"y": {"field": "k", "type": "ordinal", "axis": null, "scale": {"paddingInner": 0, "paddingOuter": 0.25, "domain": ["r00","r01","r02","r03","r04","r05","r06","r07","r08","r09","r10","r11","r12","r13","r14","r15","r16","r17","r18","r19","r20","r21","r22","r23","r24","r25","r26","r27","r28","r29"]}}},
"layer": [
{"transform": [{"filter": "datum.t==='box'"}], "mark": {"type": "rect", "fillOpacity": 0, "strokeDash": [4, 3], "strokeWidth": 1},
 "encoding": {"y": {"field": "from", "type": "ordinal", "bandPosition": 0, "axis": null}, "y2": {"field": "to", "bandPosition": 1}, "stroke": {"field": "part", "type": "nominal", "scale": {"domain": ["1", "2"], "range": ["#ee8c9c", "#8a94e0"]}, "legend": null}}},
{"transform": [{"filter": "datum.t==='header'"}], "mark": {"type": "rule", "color": "#222", "strokeWidth": 1},
 "encoding": {"x": {"datum": 1, "type": "quantitative", "title": null, "scale": {"type": "log", "domain": [0.00927, 157], "nice": false}, "axis": {"values": [0.0878, 1, 11.4], "labelExpr": "replace(toString(datum.value), '0.', '.')"}},
  "y": {"field": "k", "type": "ordinal", "bandPosition": 1, "axis": null}, "y2": {"value": "height"}}},
{"transform": [{"filter": "datum.t==='overall'"}], "mark": {"type": "rule", "color": "#d42a2a", "strokeDash": [3, 2], "strokeWidth": 1},
 "encoding": {"x": {"field": "es", "type": "quantitative", "title": null, "axis": {"values": [0.0878, 1, 11.4], "labelExpr": "replace(toString(datum.value), '0.', '.')"}}, "y": {"datum": "r00", "type": "ordinal", "bandPosition": 1, "axis": null}, "y2": {"field": "k", "bandPosition": 0.08}}},
{"transform": [{"filter": "datum.t==='study'"}], "mark": {"type": "point", "shape": "square", "filled": true, "color": "#bdbdbd", "opacity": 1},
 "encoding": {"x": {"field": "es", "type": "quantitative", "title": null, "axis": {"values": [0.0878, 1, 11.4], "labelExpr": "replace(toString(datum.value), '0.', '.')"}}, "size": {"field": "w", "type": "quantitative", "scale": {"domain": [0, 10], "range": [0, 190]}, "legend": null}}},
{"transform": [{"filter": "datum.t==='study'"}], "mark": {"type": "rule", "color": "#000", "strokeWidth": 1},
 "encoding": {"x": {"field": "lo", "type": "quantitative", "title": null, "axis": {"values": [0.0878, 1, 11.4], "labelExpr": "replace(toString(datum.value), '0.', '.')"}}, "x2": {"field": "hi"}}},
{"transform": [{"filter": "datum.t==='study'"}], "mark": {"type": "point", "shape": "diamond", "filled": true, "color": "#000", "size": 10, "opacity": 1},
 "encoding": {"x": {"field": "es", "type": "quantitative", "title": null, "axis": {"values": [0.0878, 1, 11.4], "labelExpr": "replace(toString(datum.value), '0.', '.')"}}}},
{"transform": [{"filter": "datum.t==='study' && datum.hi > 11"}], "mark": {"type": "point", "shape": "triangle-right", "filled": true, "color": "#000", "size": 20, "opacity": 1},
 "encoding": {"x": {"field": "hi", "type": "quantitative", "title": null, "axis": {"values": [0.0878, 1, 11.4], "labelExpr": "replace(toString(datum.value), '0.', '.')"}}}},
{"transform": [{"filter": "datum.t==='subtotal' || datum.t==='overall'"}], "mark": {"type": "rule", "color": "#1c1c8f", "strokeWidth": 1.2},
 "encoding": {"x": {"field": "lo", "type": "quantitative", "title": null, "axis": {"values": [0.0878, 1, 11.4], "labelExpr": "replace(toString(datum.value), '0.', '.')"}}, "x2": {"field": "es"}, "y": {"field": "k", "type": "ordinal", "bandPosition": 0.5, "axis": null}, "y2": {"field": "k", "bandPosition": 0.1}}},
{"transform": [{"filter": "datum.t==='subtotal' || datum.t==='overall'"}], "mark": {"type": "rule", "color": "#1c1c8f", "strokeWidth": 1.2},
 "encoding": {"x": {"field": "es", "type": "quantitative", "title": null, "axis": {"values": [0.0878, 1, 11.4], "labelExpr": "replace(toString(datum.value), '0.', '.')"}}, "x2": {"field": "hi"}, "y": {"field": "k", "type": "ordinal", "bandPosition": 0.1, "axis": null}, "y2": {"field": "k", "bandPosition": 0.5}}},
{"transform": [{"filter": "datum.t==='subtotal' || datum.t==='overall'"}], "mark": {"type": "rule", "color": "#1c1c8f", "strokeWidth": 1.2},
 "encoding": {"x": {"field": "hi", "type": "quantitative", "title": null, "axis": {"values": [0.0878, 1, 11.4], "labelExpr": "replace(toString(datum.value), '0.', '.')"}}, "x2": {"field": "es"}, "y": {"field": "k", "type": "ordinal", "bandPosition": 0.5, "axis": null}, "y2": {"field": "k", "bandPosition": 0.9}}},
{"transform": [{"filter": "datum.t==='subtotal' || datum.t==='overall'"}], "mark": {"type": "rule", "color": "#1c1c8f", "strokeWidth": 1.2},
 "encoding": {"x": {"field": "es", "type": "quantitative", "title": null, "axis": {"values": [0.0878, 1, 11.4], "labelExpr": "replace(toString(datum.value), '0.', '.')"}}, "x2": {"field": "lo"}, "y": {"field": "k", "type": "ordinal", "bandPosition": 0.9, "axis": null}, "y2": {"field": "k", "bandPosition": 0.5}}},
{"transform": [{"filter": "datum.t==='header'"}], "mark": {"type": "rule", "color": "#444", "strokeWidth": 1},
 "encoding": {"y": {"field": "k", "type": "ordinal", "bandPosition": 1, "axis": null}}},
{"transform": [{"filter": "datum.t==='header'"}], "mark": {"type": "text", "align": "left", "baseline": "middle", "fontSize": 9.4, "fontWeight": "bold", "dy": -3},
 "encoding": {"x": {"datum": 0.01351, "type": "quantitative", "title": null, "axis": {"values": [0.0878, 1, 11.4], "labelExpr": "replace(toString(datum.value), '0.', '.')"}}, "text": {"field": "l"}}},
{"transform": [{"filter": "datum.t==='header'"}], "mark": {"type": "text", "align": "left", "baseline": "middle", "fontSize": 9.4, "fontWeight": "bold", "dy": -3},
 "encoding": {"x": {"datum": 8.15, "type": "quantitative", "title": null, "axis": {"values": [0.0878, 1, 11.4], "labelExpr": "replace(toString(datum.value), '0.', '.')"}}, "text": {"field": "ci"}}},
{"transform": [{"filter": "datum.t==='header'"}], "mark": {"type": "text", "align": "left", "baseline": "middle", "fontSize": 9.4, "fontWeight": "bold", "dy": -3},
 "encoding": {"x": {"datum": 43.2, "type": "quantitative", "title": null, "axis": {"values": [0.0878, 1, 11.4], "labelExpr": "replace(toString(datum.value), '0.', '.')"}}, "text": {"field": "wl"}}},
{"transform": [{"filter": "datum.t!=='header' && datum.t!=='box'"}], "mark": {"type": "text", "align": "left", "baseline": "middle", "fontSize": 8.6},
 "encoding": {"x": {"datum": 0.01262, "type": "quantitative", "title": null, "axis": {"values": [0.0878, 1, 11.4], "labelExpr": "replace(toString(datum.value), '0.', '.')"}}, "text": {"field": "l"}}},
{"transform": [{"filter": "datum.t!=='header' && isValid(datum.ci)"}], "mark": {"type": "text", "align": "left", "baseline": "middle", "fontSize": 8},
 "encoding": {"x": {"datum": 12.87, "type": "quantitative", "title": null, "axis": {"values": [0.0878, 1, 11.4], "labelExpr": "replace(toString(datum.value), '0.', '.')"}}, "text": {"field": "ci"}}},
{"transform": [{"filter": "isValid(datum.w)"}], "mark": {"type": "text", "align": "left", "baseline": "middle", "fontSize": 8},
 "encoding": {"x": {"datum": 71.0, "type": "quantitative", "title": null, "axis": {"values": [0.0878, 1, 11.4], "labelExpr": "replace(toString(datum.value), '0.', '.')"}}, "text": {"field": "w", "type": "quantitative", "format": ".2f"}}},
{"transform": [{"filter": "datum.t==='subtotal'"}], "mark": {"type": "text", "align": "right", "baseline": "middle", "fontSize": 9, "fontWeight": "bold", "fontStyle": "italic"},
 "encoding": {"x": {"datum": 10.66, "type": "quantitative", "title": null, "axis": {"values": [0.0878, 1, 11.4], "labelExpr": "replace(toString(datum.value), '0.', '.')"}}, "text": {"field": "g"}}}
]
}
]}
]
}
